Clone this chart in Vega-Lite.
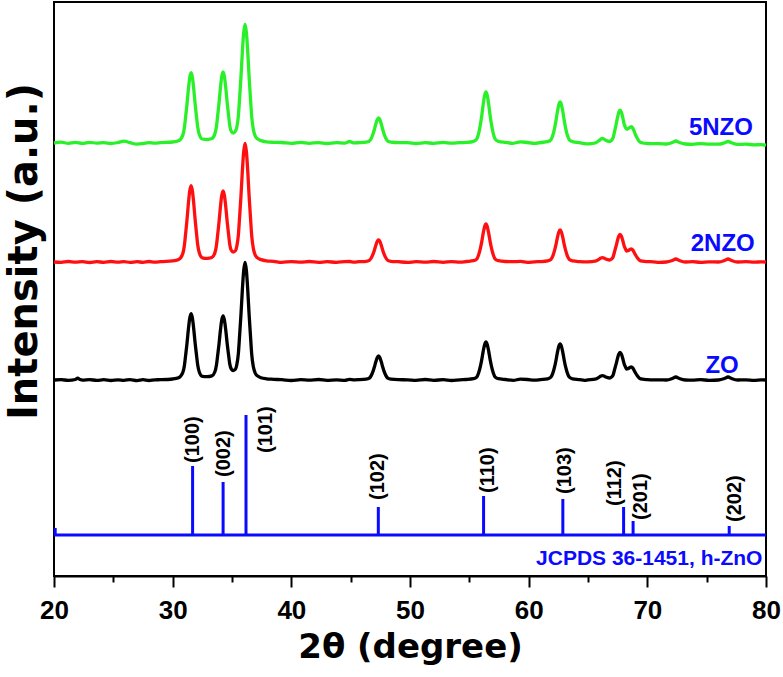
{
"$schema": "https://vega.github.io/schema/vega-lite/v6.json",
"autosize": "none",
"padding": {"left": 54, "top": 2, "right": 17, "bottom": 101},
"width": 712,
"height": 574,
"background": "white",
"config": {"view": {"stroke": "black", "strokeWidth": 2}, "font": "Liberation Sans"},
"datasets": {
"xrd": [
{"s":"5NZO","t":20,"i":433},{"s":"5NZO","t":20.6,"i":433.8},{"s":"5NZO","t":21.2,"i":432.7},{"s":"5NZO","t":21.8,"i":433.6},{"s":"5NZO","t":22.4,"i":432.6},{"s":"5NZO","t":23.0,"i":433.7},{"s":"5NZO","t":23.6,"i":432.8},{"s":"5NZO","t":24.2,"i":433.4},{"s":"5NZO","t":24.8,"i":432.5},{"s":"5NZO","t":25.4,"i":433.5},{"s":"5NZO","t":25.9,"i":434.8},{"s":"5NZO","t":26.4,"i":433.3},{"s":"5NZO","t":27.0,"i":431.8},{"s":"5NZO","t":27.5,"i":432.4},{"s":"5NZO","t":28.0,"i":433.4},{"s":"5NZO","t":28.5,"i":432.8},
{"s":"5NZO","t":29.0,"i":433.4},{"s":"5NZO","t":30.0,"i":434},{"s":"5NZO","t":30.5,"i":435.3},{"s":"5NZO","t":30.85,"i":440.7},{"s":"5NZO","t":30.99,"i":448.4},{"s":"5NZO","t":31.09,"i":458.9},{"s":"5NZO","t":31.205,"i":471.5},{"s":"5NZO","t":31.32,"i":486.2},{"s":"5NZO","t":31.435,"i":498.1},{"s":"5NZO","t":31.55,"i":503.3},{"s":"5NZO","t":31.665,"i":498.5},{"s":"5NZO","t":31.78,"i":486.6},{"s":"5NZO","t":31.895,"i":471.9},{"s":"5NZO","t":32.01,"i":459.3},{"s":"5NZO","t":32.11,"i":448.9},{"s":"5NZO","t":32.25,"i":441.3},{"s":"5NZO","t":32.5,"i":437},{"s":"5NZO","t":32.9,"i":436.5},{"s":"5NZO","t":33.3,"i":437.5},{"s":"5NZO","t":33.55,"i":441.9},{"s":"5NZO","t":33.69,"i":449.6},{"s":"5NZO","t":33.79,"i":460},{"s":"5NZO","t":33.905,"i":472.7},{"s":"5NZO","t":34.02,"i":487.5},{"s":"5NZO","t":34.135,"i":499.5},{"s":"5NZO","t":34.25,"i":504.2},{"s":"5NZO","t":34.365,"i":499.3},{"s":"5NZO","t":34.48,"i":487.6},{"s":"5NZO","t":34.595,"i":473.2},{"s":"5NZO","t":34.71,"i":460.8},{"s":"5NZO","t":34.81,"i":450.6},{"s":"5NZO","t":34.95,"i":444.5},{"s":"5NZO","t":35.1,"i":443},{"s":"5NZO","t":35.3,"i":445},{"s":"5NZO","t":35.4,"i":448.5},{"s":"5NZO","t":35.54,"i":460.3},{"s":"5NZO","t":35.64,"i":477.8},{"s":"5NZO","t":35.755,"i":498.9},{"s":"5NZO","t":35.87,"i":523.5},{"s":"5NZO","t":35.985,"i":543.4},{"s":"5NZO","t":36.1,"i":551.7},{"s":"5NZO","t":36.215,"i":543.3},{"s":"5NZO","t":36.33,"i":523.3},{"s":"5NZO","t":36.445,"i":498.4},{"s":"5NZO","t":36.56,"i":477.2},{"s":"5NZO","t":36.66,"i":459.4},{"s":"5NZO","t":36.8,"i":446.4},{"s":"5NZO","t":36.95,"i":440.1},{"s":"5NZO","t":37.15,"i":437.1},{"s":"5NZO","t":37.45,"i":435.4},{"s":"5NZO","t":37.9,"i":434.2},{"s":"5NZO","t":38.5,"i":433.7},
{"s":"5NZO","t":39.2,"i":433.5},{"s":"5NZO","t":40.0,"i":432.6},{"s":"5NZO","t":40.8,"i":433.6},{"s":"5NZO","t":41.5,"i":432.7},{"s":"5NZO","t":42.3,"i":433.4},{"s":"5NZO","t":43.0,"i":432.5},{"s":"5NZO","t":43.8,"i":433.3},{"s":"5NZO","t":44.5,"i":432.8},{"s":"5NZO","t":44.9,"i":434.5},{"s":"5NZO","t":45.3,"i":433.1},
{"s":"5NZO","t":45.7,"i":433.3},{"s":"5NZO","t":46.3,"i":433.8},{"s":"5NZO","t":46.57,"i":434.9},{"s":"5NZO","t":46.73,"i":437.6},{"s":"5NZO","t":46.89,"i":442.3},{"s":"5NZO","t":47.005,"i":446.8},{"s":"5NZO","t":47.12,"i":452},{"s":"5NZO","t":47.235,"i":456.3},{"s":"5NZO","t":47.35,"i":458},{"s":"5NZO","t":47.465,"i":456.3},{"s":"5NZO","t":47.58,"i":452},{"s":"5NZO","t":47.695,"i":446.8},{"s":"5NZO","t":47.81,"i":442.3},{"s":"5NZO","t":47.97,"i":437.6},{"s":"5NZO","t":48.13,"i":434.9},{"s":"5NZO","t":48.4,"i":433.8},{"s":"5NZO","t":49.0,"i":433.3},
{"s":"5NZO","t":49.8,"i":433.4},{"s":"5NZO","t":50.5,"i":432.5},{"s":"5NZO","t":51.3,"i":433.3},{"s":"5NZO","t":52.0,"i":432.7},{"s":"5NZO","t":52.8,"i":433.6},{"s":"5NZO","t":53.5,"i":432.8},{"s":"5NZO","t":54.2,"i":433.3},
{"s":"5NZO","t":54.75,"i":433.6},{"s":"5NZO","t":55.35,"i":434.7},{"s":"5NZO","t":55.62,"i":436.9},{"s":"5NZO","t":55.78,"i":442.3},{"s":"5NZO","t":55.94,"i":451.9},{"s":"5NZO","t":56.055,"i":461},{"s":"5NZO","t":56.17,"i":471.8},{"s":"5NZO","t":56.285,"i":480.4},{"s":"5NZO","t":56.4,"i":484},{"s":"5NZO","t":56.515,"i":480.4},{"s":"5NZO","t":56.63,"i":471.8},{"s":"5NZO","t":56.745,"i":461},{"s":"5NZO","t":56.86,"i":451.9},{"s":"5NZO","t":57.02,"i":442.3},{"s":"5NZO","t":57.18,"i":436.9},{"s":"5NZO","t":57.45,"i":434.7},{"s":"5NZO","t":58.05,"i":433.6},
{"s":"5NZO","t":58.7,"i":432.7},{"s":"5NZO","t":59.3,"i":434.2},{"s":"5NZO","t":59.9,"i":433.5},{"s":"5NZO","t":60.5,"i":432.6},
{"s":"5NZO","t":61.0,"i":433.5},{"s":"5NZO","t":61.6,"i":434.4},{"s":"5NZO","t":61.87,"i":436.2},{"s":"5NZO","t":62.03,"i":440.5},{"s":"5NZO","t":62.19,"i":448.2},{"s":"5NZO","t":62.305,"i":455.6},{"s":"5NZO","t":62.42,"i":464.2},{"s":"5NZO","t":62.535,"i":471.1},{"s":"5NZO","t":62.65,"i":474},{"s":"5NZO","t":62.765,"i":471.1},{"s":"5NZO","t":62.88,"i":464.2},{"s":"5NZO","t":62.995,"i":455.6},{"s":"5NZO","t":63.11,"i":448.2},{"s":"5NZO","t":63.27,"i":440.5},{"s":"5NZO","t":63.43,"i":436.2},{"s":"5NZO","t":63.7,"i":434.4},{"s":"5NZO","t":64.3,"i":433.3},
{"s":"5NZO","t":64.7,"i":432.4},{"s":"5NZO","t":65.0,"i":432.2},{"s":"5NZO","t":65.6,"i":433},{"s":"5NZO","t":65.9,"i":435.1},{"s":"5NZO","t":66.05,"i":436.6},{"s":"5NZO","t":66.2,"i":437.6},{"s":"5NZO","t":66.35,"i":436.9},{"s":"5NZO","t":66.5,"i":435.7},{"s":"5NZO","t":66.8,"i":434.5},{"s":"5NZO","t":67.0,"i":435.8},{"s":"5NZO","t":67.12,"i":438.4},{"s":"5NZO","t":67.24,"i":444.7},{"s":"5NZO","t":67.355,"i":450.7},{"s":"5NZO","t":67.47,"i":457.6},{"s":"5NZO","t":67.585,"i":463.3},{"s":"5NZO","t":67.7,"i":465.8},{"s":"5NZO","t":67.815,"i":463.6},{"s":"5NZO","t":67.93,"i":458.4},{"s":"5NZO","t":68.045,"i":452},{"s":"5NZO","t":68.16,"i":448.5},{"s":"5NZO","t":68.26,"i":446.8},{"s":"5NZO","t":68.36,"i":447.2},{"s":"5NZO","t":68.535,"i":448.8},{"s":"5NZO","t":68.65,"i":449.4},{"s":"5NZO","t":68.765,"i":448},{"s":"5NZO","t":68.88,"i":445.1},{"s":"5NZO","t":68.995,"i":441.5},{"s":"5NZO","t":69.17,"i":437.3},{"s":"5NZO","t":69.35,"i":434.2},{"s":"5NZO","t":69.6,"i":433},{"s":"5NZO","t":70.0,"i":432.5},{"s":"5NZO","t":70.5,"i":432.3},
{"s":"5NZO","t":71.0,"i":432.3},{"s":"5NZO","t":71.6,"i":432},{"s":"5NZO","t":72.1,"i":433.5},{"s":"5NZO","t":72.4,"i":435},{"s":"5NZO","t":72.7,"i":433.5},{"s":"5NZO","t":73.2,"i":432},{"s":"5NZO","t":73.8,"i":431.7},{"s":"5NZO","t":74.5,"i":432.4},{"s":"5NZO","t":75.2,"i":431.8},{"s":"5NZO","t":76.0,"i":431.8},{"s":"5NZO","t":76.5,"i":433.2},{"s":"5NZO","t":76.8,"i":434.5},{"s":"5NZO","t":77.1,"i":433.2},{"s":"5NZO","t":77.6,"i":431.6},{"s":"5NZO","t":78.3,"i":431.8},{"s":"5NZO","t":79.0,"i":431.2},{"s":"5NZO","t":79.6,"i":431.3},{"s":"5NZO","t":80.0,"i":430.8},

{"s":"2NZO","t":20,"i":314},{"s":"2NZO","t":20.6,"i":313.6},{"s":"2NZO","t":21.2,"i":314.5},{"s":"2NZO","t":21.8,"i":313.8},{"s":"2NZO","t":22.4,"i":314.4},{"s":"2NZO","t":23.0,"i":313.5},{"s":"2NZO","t":23.6,"i":314.3},{"s":"2NZO","t":24.2,"i":313.7},{"s":"2NZO","t":24.8,"i":314.5},{"s":"2NZO","t":25.4,"i":313.8},{"s":"2NZO","t":25.9,"i":314.4},{"s":"2NZO","t":26.4,"i":313.6},{"s":"2NZO","t":27.0,"i":314.3},{"s":"2NZO","t":27.5,"i":313.7},{"s":"2NZO","t":28.0,"i":314.5},{"s":"2NZO","t":28.5,"i":313.8},
{"s":"2NZO","t":29.0,"i":314.4},{"s":"2NZO","t":30.0,"i":315.1},{"s":"2NZO","t":30.5,"i":316.5},{"s":"2NZO","t":30.85,"i":322.4},{"s":"2NZO","t":30.99,"i":330.7},{"s":"2NZO","t":31.09,"i":342.1},{"s":"2NZO","t":31.205,"i":355.8},{"s":"2NZO","t":31.32,"i":371.8},{"s":"2NZO","t":31.435,"i":384.7},{"s":"2NZO","t":31.55,"i":390.3},{"s":"2NZO","t":31.665,"i":385},{"s":"2NZO","t":31.78,"i":372.1},{"s":"2NZO","t":31.895,"i":356.2},{"s":"2NZO","t":32.01,"i":342.5},{"s":"2NZO","t":32.11,"i":331.2},{"s":"2NZO","t":32.25,"i":323},{"s":"2NZO","t":32.5,"i":318.2},{"s":"2NZO","t":32.9,"i":317.6},{"s":"2NZO","t":33.3,"i":318.5},{"s":"2NZO","t":33.55,"i":322.9},{"s":"2NZO","t":33.69,"i":330.6},{"s":"2NZO","t":33.79,"i":341},{"s":"2NZO","t":33.905,"i":353.7},{"s":"2NZO","t":34.02,"i":368.5},{"s":"2NZO","t":34.135,"i":380.5},{"s":"2NZO","t":34.25,"i":385.2},{"s":"2NZO","t":34.365,"i":380.3},{"s":"2NZO","t":34.48,"i":368.6},{"s":"2NZO","t":34.595,"i":354.2},{"s":"2NZO","t":34.71,"i":341.8},{"s":"2NZO","t":34.81,"i":331.6},{"s":"2NZO","t":34.95,"i":325.5},{"s":"2NZO","t":35.1,"i":324},{"s":"2NZO","t":35.3,"i":325.5},{"s":"2NZO","t":35.4,"i":329.5},{"s":"2NZO","t":35.54,"i":341.3},{"s":"2NZO","t":35.64,"i":358.8},{"s":"2NZO","t":35.755,"i":379.9},{"s":"2NZO","t":35.87,"i":404.5},{"s":"2NZO","t":35.985,"i":424.4},{"s":"2NZO","t":36.1,"i":432.7},{"s":"2NZO","t":36.215,"i":424.3},{"s":"2NZO","t":36.33,"i":404.3},{"s":"2NZO","t":36.445,"i":379.4},{"s":"2NZO","t":36.56,"i":358.2},{"s":"2NZO","t":36.66,"i":340.4},{"s":"2NZO","t":36.8,"i":327.4},{"s":"2NZO","t":36.95,"i":321.1},{"s":"2NZO","t":37.15,"i":318.1},{"s":"2NZO","t":37.45,"i":316.4},{"s":"2NZO","t":37.9,"i":315.2},{"s":"2NZO","t":38.5,"i":314.7},
{"s":"2NZO","t":39.2,"i":313.7},{"s":"2NZO","t":40.0,"i":314.4},{"s":"2NZO","t":40.8,"i":313.8},{"s":"2NZO","t":41.5,"i":314.5},{"s":"2NZO","t":42.3,"i":313.6},{"s":"2NZO","t":43.0,"i":314.3},{"s":"2NZO","t":43.8,"i":313.7},{"s":"2NZO","t":44.5,"i":314.4},{"s":"2NZO","t":44.9,"i":314.5},{"s":"2NZO","t":45.3,"i":313.8},
{"s":"2NZO","t":45.7,"i":314.3},{"s":"2NZO","t":46.3,"i":314.7},{"s":"2NZO","t":46.57,"i":315.7},{"s":"2NZO","t":46.73,"i":318},{"s":"2NZO","t":46.89,"i":322.1},{"s":"2NZO","t":47.005,"i":326.1},{"s":"2NZO","t":47.12,"i":330.7},{"s":"2NZO","t":47.235,"i":334.5},{"s":"2NZO","t":47.35,"i":336},{"s":"2NZO","t":47.465,"i":334.5},{"s":"2NZO","t":47.58,"i":330.7},{"s":"2NZO","t":47.695,"i":326.1},{"s":"2NZO","t":47.81,"i":322.1},{"s":"2NZO","t":47.97,"i":318},{"s":"2NZO","t":48.13,"i":315.7},{"s":"2NZO","t":48.4,"i":314.7},{"s":"2NZO","t":49.0,"i":314.3},
{"s":"2NZO","t":49.8,"i":313.6},{"s":"2NZO","t":50.5,"i":314.3},{"s":"2NZO","t":51.3,"i":313.8},{"s":"2NZO","t":52.0,"i":314.5},{"s":"2NZO","t":52.8,"i":313.7},{"s":"2NZO","t":53.5,"i":314.4},{"s":"2NZO","t":54.2,"i":313.8},
{"s":"2NZO","t":54.75,"i":314.5},{"s":"2NZO","t":55.35,"i":315.3},{"s":"2NZO","t":55.62,"i":316.9},{"s":"2NZO","t":55.78,"i":321},{"s":"2NZO","t":55.94,"i":328.1},{"s":"2NZO","t":56.055,"i":334.9},{"s":"2NZO","t":56.17,"i":342.9},{"s":"2NZO","t":56.285,"i":349.3},{"s":"2NZO","t":56.4,"i":352},{"s":"2NZO","t":56.515,"i":349.3},{"s":"2NZO","t":56.63,"i":342.9},{"s":"2NZO","t":56.745,"i":334.9},{"s":"2NZO","t":56.86,"i":328.1},{"s":"2NZO","t":57.02,"i":321},{"s":"2NZO","t":57.18,"i":316.9},{"s":"2NZO","t":57.45,"i":315.3},{"s":"2NZO","t":58.05,"i":314.5},
{"s":"2NZO","t":58.7,"i":314.3},{"s":"2NZO","t":59.3,"i":314.6},{"s":"2NZO","t":59.9,"i":313.7},{"s":"2NZO","t":60.5,"i":314.2},
{"s":"2NZO","t":61.0,"i":314.4},{"s":"2NZO","t":61.6,"i":315.1},{"s":"2NZO","t":61.87,"i":316.5},{"s":"2NZO","t":62.03,"i":319.9},{"s":"2NZO","t":62.19,"i":325.8},{"s":"2NZO","t":62.305,"i":331.6},{"s":"2NZO","t":62.42,"i":338.3},{"s":"2NZO","t":62.535,"i":343.8},{"s":"2NZO","t":62.65,"i":346},{"s":"2NZO","t":62.765,"i":343.8},{"s":"2NZO","t":62.88,"i":338.3},{"s":"2NZO","t":62.995,"i":331.6},{"s":"2NZO","t":63.11,"i":325.8},{"s":"2NZO","t":63.27,"i":319.9},{"s":"2NZO","t":63.43,"i":316.5},{"s":"2NZO","t":63.7,"i":315.1},{"s":"2NZO","t":64.3,"i":314.4},
{"s":"2NZO","t":64.7,"i":314.2},{"s":"2NZO","t":65.0,"i":314.1},{"s":"2NZO","t":65.6,"i":314.8},{"s":"2NZO","t":65.9,"i":316.5},{"s":"2NZO","t":66.05,"i":317.7},{"s":"2NZO","t":66.2,"i":318.4},{"s":"2NZO","t":66.35,"i":317.9},{"s":"2NZO","t":66.5,"i":316.9},{"s":"2NZO","t":66.8,"i":316},{"s":"2NZO","t":67.0,"i":317.1},{"s":"2NZO","t":67.12,"i":319.2},{"s":"2NZO","t":67.24,"i":324.4},{"s":"2NZO","t":67.355,"i":329.3},{"s":"2NZO","t":67.47,"i":334.9},{"s":"2NZO","t":67.585,"i":339.6},{"s":"2NZO","t":67.7,"i":341.6},{"s":"2NZO","t":67.815,"i":339.8},{"s":"2NZO","t":67.93,"i":335.5},{"s":"2NZO","t":68.045,"i":330.2},{"s":"2NZO","t":68.16,"i":327},{"s":"2NZO","t":68.26,"i":324.8},{"s":"2NZO","t":68.36,"i":325.2},{"s":"2NZO","t":68.535,"i":326.6},{"s":"2NZO","t":68.65,"i":327.1},{"s":"2NZO","t":68.765,"i":326.1},{"s":"2NZO","t":68.88,"i":323.8},{"s":"2NZO","t":68.995,"i":321.2},{"s":"2NZO","t":69.17,"i":318},{"s":"2NZO","t":69.35,"i":315.7},{"s":"2NZO","t":69.6,"i":314.8},{"s":"2NZO","t":70.0,"i":314.4},{"s":"2NZO","t":70.5,"i":314.2},
{"s":"2NZO","t":71.0,"i":313.7},{"s":"2NZO","t":71.6,"i":314},{"s":"2NZO","t":72.1,"i":315.5},{"s":"2NZO","t":72.4,"i":317},{"s":"2NZO","t":72.7,"i":315.5},{"s":"2NZO","t":73.2,"i":314},{"s":"2NZO","t":73.8,"i":314.3},{"s":"2NZO","t":74.5,"i":313.7},{"s":"2NZO","t":75.2,"i":314.2},{"s":"2NZO","t":76.0,"i":314},{"s":"2NZO","t":76.5,"i":315.5},{"s":"2NZO","t":76.8,"i":317},{"s":"2NZO","t":77.1,"i":315.5},{"s":"2NZO","t":77.6,"i":314},{"s":"2NZO","t":78.3,"i":314.3},{"s":"2NZO","t":79.0,"i":313.8},{"s":"2NZO","t":79.6,"i":314.2},{"s":"2NZO","t":80.0,"i":314},

{"s":"ZO","t":20,"i":196},{"s":"ZO","t":20.6,"i":196.3},{"s":"ZO","t":21.2,"i":195.7},{"s":"ZO","t":21.8,"i":196.5},{"s":"ZO","t":22.0,"i":197.8},{"s":"ZO","t":22.2,"i":196.4},{"s":"ZO","t":22.4,"i":195.8},{"s":"ZO","t":23.0,"i":196.4},{"s":"ZO","t":23.6,"i":195.6},{"s":"ZO","t":24.2,"i":196.3},{"s":"ZO","t":24.8,"i":195.5},{"s":"ZO","t":25.4,"i":196.2},{"s":"ZO","t":25.9,"i":195.7},{"s":"ZO","t":26.4,"i":196.4},{"s":"ZO","t":27.0,"i":195.4},{"s":"ZO","t":27.5,"i":196.3},{"s":"ZO","t":28.0,"i":195.5},{"s":"ZO","t":28.5,"i":196.2},
{"s":"ZO","t":29.0,"i":196.3},{"s":"ZO","t":30.0,"i":197},{"s":"ZO","t":30.5,"i":198.2},{"s":"ZO","t":30.85,"i":203.3},{"s":"ZO","t":30.99,"i":210.5},{"s":"ZO","t":31.09,"i":220.4},{"s":"ZO","t":31.205,"i":232.3},{"s":"ZO","t":31.32,"i":246.2},{"s":"ZO","t":31.435,"i":257.4},{"s":"ZO","t":31.55,"i":262.3},{"s":"ZO","t":31.665,"i":257.7},{"s":"ZO","t":31.78,"i":246.5},{"s":"ZO","t":31.895,"i":232.7},{"s":"ZO","t":32.01,"i":220.8},{"s":"ZO","t":32.11,"i":211},{"s":"ZO","t":32.25,"i":203.8},{"s":"ZO","t":32.5,"i":199.7},{"s":"ZO","t":32.9,"i":199.3},{"s":"ZO","t":33.3,"i":200.1},{"s":"ZO","t":33.55,"i":204},{"s":"ZO","t":33.69,"i":211.1},{"s":"ZO","t":33.79,"i":220.4},{"s":"ZO","t":33.905,"i":231.9},{"s":"ZO","t":34.02,"i":245.2},{"s":"ZO","t":34.135,"i":256},{"s":"ZO","t":34.25,"i":260.2},{"s":"ZO","t":34.365,"i":255.8},{"s":"ZO","t":34.48,"i":245.3},{"s":"ZO","t":34.595,"i":232.3},{"s":"ZO","t":34.71,"i":221.2},{"s":"ZO","t":34.81,"i":212.1},{"s":"ZO","t":34.95,"i":206.8},{"s":"ZO","t":35.1,"i":205.5},{"s":"ZO","t":35.3,"i":207},{"s":"ZO","t":35.4,"i":211},{"s":"ZO","t":35.54,"i":222.9},{"s":"ZO","t":35.64,"i":240.3},{"s":"ZO","t":35.755,"i":261.3},{"s":"ZO","t":35.87,"i":285.7},{"s":"ZO","t":35.985,"i":305.4},{"s":"ZO","t":36.1,"i":313.6},{"s":"ZO","t":36.215,"i":305.4},{"s":"ZO","t":36.33,"i":285.4},{"s":"ZO","t":36.445,"i":260.8},{"s":"ZO","t":36.56,"i":239.7},{"s":"ZO","t":36.66,"i":221.9},{"s":"ZO","t":36.8,"i":209.2},{"s":"ZO","t":36.95,"i":203},{"s":"ZO","t":37.15,"i":200.1},{"s":"ZO","t":37.45,"i":198.3},{"s":"ZO","t":37.9,"i":197.2},{"s":"ZO","t":38.5,"i":196.7},
{"s":"ZO","t":39.2,"i":196.3},{"s":"ZO","t":40.0,"i":195.5},{"s":"ZO","t":40.8,"i":196.4},{"s":"ZO","t":41.5,"i":195.8},{"s":"ZO","t":42.3,"i":196.5},{"s":"ZO","t":43.0,"i":195.6},{"s":"ZO","t":43.8,"i":196.2},{"s":"ZO","t":44.5,"i":195.7},{"s":"ZO","t":44.9,"i":196.6},{"s":"ZO","t":45.3,"i":196.2},
{"s":"ZO","t":45.7,"i":196.3},{"s":"ZO","t":46.3,"i":196.8},{"s":"ZO","t":46.57,"i":197.8},{"s":"ZO","t":46.73,"i":200.4},{"s":"ZO","t":46.89,"i":204.9},{"s":"ZO","t":47.005,"i":209.2},{"s":"ZO","t":47.12,"i":214.2},{"s":"ZO","t":47.235,"i":218.3},{"s":"ZO","t":47.35,"i":220},{"s":"ZO","t":47.465,"i":218.3},{"s":"ZO","t":47.58,"i":214.2},{"s":"ZO","t":47.695,"i":209.2},{"s":"ZO","t":47.81,"i":204.9},{"s":"ZO","t":47.97,"i":200.4},{"s":"ZO","t":48.13,"i":197.8},{"s":"ZO","t":48.4,"i":196.8},{"s":"ZO","t":49.0,"i":196.3},
{"s":"ZO","t":49.8,"i":196.2},{"s":"ZO","t":50.5,"i":195.6},{"s":"ZO","t":51.3,"i":196.5},{"s":"ZO","t":52.0,"i":195.7},{"s":"ZO","t":52.8,"i":196.3},{"s":"ZO","t":53.5,"i":195.5},{"s":"ZO","t":54.2,"i":196.2},
{"s":"ZO","t":54.75,"i":196.5},{"s":"ZO","t":55.35,"i":197.3},{"s":"ZO","t":55.62,"i":198.9},{"s":"ZO","t":55.78,"i":203},{"s":"ZO","t":55.94,"i":210.1},{"s":"ZO","t":56.055,"i":216.9},{"s":"ZO","t":56.17,"i":224.9},{"s":"ZO","t":56.285,"i":231.3},{"s":"ZO","t":56.4,"i":234},{"s":"ZO","t":56.515,"i":231.3},{"s":"ZO","t":56.63,"i":224.9},{"s":"ZO","t":56.745,"i":216.9},{"s":"ZO","t":56.86,"i":210.1},{"s":"ZO","t":57.02,"i":203},{"s":"ZO","t":57.18,"i":198.9},{"s":"ZO","t":57.45,"i":197.3},{"s":"ZO","t":58.05,"i":196.5},
{"s":"ZO","t":58.7,"i":195.7},{"s":"ZO","t":59.3,"i":196.8},{"s":"ZO","t":59.9,"i":196.5},{"s":"ZO","t":60.5,"i":195.8},
{"s":"ZO","t":61.0,"i":196.4},{"s":"ZO","t":61.6,"i":197.2},{"s":"ZO","t":61.87,"i":198.8},{"s":"ZO","t":62.03,"i":202.6},{"s":"ZO","t":62.19,"i":209.3},{"s":"ZO","t":62.305,"i":215.8},{"s":"ZO","t":62.42,"i":223.4},{"s":"ZO","t":62.535,"i":229.5},{"s":"ZO","t":62.65,"i":232},{"s":"ZO","t":62.765,"i":229.5},{"s":"ZO","t":62.88,"i":223.4},{"s":"ZO","t":62.995,"i":215.8},{"s":"ZO","t":63.11,"i":209.3},{"s":"ZO","t":63.27,"i":202.6},{"s":"ZO","t":63.43,"i":198.8},{"s":"ZO","t":63.7,"i":197.2},{"s":"ZO","t":64.3,"i":196.4},
{"s":"ZO","t":64.7,"i":195.7},{"s":"ZO","t":65.0,"i":196.1},{"s":"ZO","t":65.6,"i":196.8},{"s":"ZO","t":65.9,"i":198.5},{"s":"ZO","t":66.05,"i":199.7},{"s":"ZO","t":66.2,"i":200.4},{"s":"ZO","t":66.35,"i":199.9},{"s":"ZO","t":66.5,"i":198.9},{"s":"ZO","t":66.8,"i":198},{"s":"ZO","t":67.0,"i":199.1},{"s":"ZO","t":67.12,"i":201.2},{"s":"ZO","t":67.24,"i":206.4},{"s":"ZO","t":67.355,"i":211.3},{"s":"ZO","t":67.47,"i":216.9},{"s":"ZO","t":67.585,"i":221.6},{"s":"ZO","t":67.7,"i":223.6},{"s":"ZO","t":67.815,"i":221.8},{"s":"ZO","t":67.93,"i":217.5},{"s":"ZO","t":68.045,"i":212.2},{"s":"ZO","t":68.16,"i":209},{"s":"ZO","t":68.26,"i":206.8},{"s":"ZO","t":68.36,"i":207.2},{"s":"ZO","t":68.535,"i":208.6},{"s":"ZO","t":68.65,"i":209.1},{"s":"ZO","t":68.765,"i":208.1},{"s":"ZO","t":68.88,"i":205.8},{"s":"ZO","t":68.995,"i":203.2},{"s":"ZO","t":69.17,"i":200},{"s":"ZO","t":69.35,"i":197.7},{"s":"ZO","t":69.6,"i":196.8},{"s":"ZO","t":70.0,"i":196.4},{"s":"ZO","t":70.5,"i":196.2},
{"s":"ZO","t":71.0,"i":196.2},{"s":"ZO","t":71.6,"i":196},{"s":"ZO","t":72.1,"i":197.5},{"s":"ZO","t":72.4,"i":199},{"s":"ZO","t":72.7,"i":197.5},{"s":"ZO","t":73.2,"i":196},{"s":"ZO","t":73.8,"i":195.8},{"s":"ZO","t":74.5,"i":196.3},{"s":"ZO","t":75.2,"i":195.7},{"s":"ZO","t":76.0,"i":196},{"s":"ZO","t":76.5,"i":197.5},{"s":"ZO","t":76.8,"i":199},{"s":"ZO","t":77.1,"i":197.5},{"s":"ZO","t":77.6,"i":196},{"s":"ZO","t":78.3,"i":196.2},{"s":"ZO","t":79.0,"i":195.7},{"s":"ZO","t":79.6,"i":196.2},{"s":"ZO","t":80.0,"i":196}
],
"jcpds": [
{"hkl":"","t":20.1,"i":48,"lt":20.1,"li":48},
{"hkl":"(100)","t":31.68,"i":110,"lt":31.7,"li":113},
{"hkl":"(002)","t":34.25,"i":94,"lt":34.3,"li":99},
{"hkl":"(101)","t":36.18,"i":161,"lt":37.9,"li":123},
{"hkl":"(102)","t":47.33,"i":69,"lt":47.3,"li":76},
{"hkl":"(110)","t":56.2,"i":80,"lt":56.6,"li":83},
{"hkl":"(103)","t":62.88,"i":77,"lt":63.1,"li":82},
{"hkl":"(112)","t":68.0,"i":69,"lt":67.3,"li":70},
{"hkl":"(201)","t":68.8,"i":55,"lt":69.5,"li":56},
{"hkl":"(202)","t":76.9,"i":50,"lt":77.4,"li":54}
],
"names": [
{"label":"5NZO","t":78.9,"i":441,"kind":"sample"},
{"label":"2NZO","t":79.05,"i":325,"kind":"sample"},
{"label":"ZO","t":77.7,"i":203,"kind":"sample"},
{"label":"JCPDS 36-1451, h-ZnO","t":79.7,"i":11,"kind":"ref"}
],
"base": [{"a":20,"b":80,"y":41}]
},
"layer": [
{
"data": {"name": "xrd"},
"mark": {"type": "line", "interpolate": "monotone", "strokeWidth": 3.3, "strokeJoin": "round"},
"encoding": {
"x": {"field": "t", "type": "quantitative", "scale": {"domain": [20, 80], "nice": false, "zero": false},
"axis": {"title": "2θ (degree)", "titleFont": "DejaVu Sans", "titleFontSize": 34, "titleFontWeight": "bold", "titleColor": "black", "titleBaseline": "alphabetic", "titleAlign": "center", "titleX": 356, "titleY": 81,
"values": [20,25,30,35,40,45,50,55,60,65,70,75,80], "labelExpr": "datum.value % 10 === 0 ? datum.label : ''",
"labelFont": "Liberation Sans", "labelFontSize": 26, "labelFontWeight": "bold", "labelColor": "black", "labelPadding": 10, "labelFlush": false, "labelOverlap": false,
"tickSize": {"condition": {"test": "datum.value % 10 === 0", "value": 11}, "value": 6}, "tickWidth": 2, "tickColor": "black", "domainColor": "black", "domainWidth": 2, "grid": false}},
"y": {"field": "i", "type": "quantitative", "scale": {"domain": [0, 574], "nice": false, "zero": false},
"axis": {"title": "Intensity (a.u.)", "titleFont": "DejaVu Sans", "titleFontSize": 40, "titleFontWeight": "bold", "titleColor": "black", "titleAngle": 270, "titleBaseline": "alphabetic", "titleAlign": "center", "titleX": -18, "titleY": 249, "labels": false, "ticks": false, "domain": false, "grid": false}},
"color": {"field": "s", "type": "nominal", "scale": {"domain": ["5NZO", "2NZO", "ZO"], "range": ["#2af02a", "#ff1010", "#000000"]}, "legend": null}
}
},
{
"data": {"name": "base"},
"mark": {"type": "rule", "color": "#0a0aff", "strokeWidth": 3},
"encoding": {"x": {"field": "a", "type": "quantitative"}, "x2": {"field": "b"}, "y": {"field": "y", "type": "quantitative"}}
},
{
"data": {"name": "jcpds"},
"mark": {"type": "rule", "color": "#0a0aff", "strokeWidth": 3},
"encoding": {"x": {"field": "t", "type": "quantitative"}, "y": {"field": "i", "type": "quantitative"}, "y2": {"datum": 41}}
},
{
"data": {"name": "jcpds"},
"transform": [{"filter": "datum.hkl != ''"}],
"mark": {"type": "text", "angle": 270, "align": "left", "baseline": "middle", "font": "Liberation Sans", "fontWeight": "bold", "fontSize": 20, "color": "black"},
"encoding": {"x": {"field": "lt", "type": "quantitative"}, "y": {"field": "li", "type": "quantitative"}, "text": {"field": "hkl"}}
},
{
"data": {"name": "names"},
"transform": [{"filter": "datum.kind == 'sample'"}],
"mark": {"type": "text", "align": "right", "baseline": "alphabetic", "font": "Liberation Sans", "fontWeight": "bold", "fontSize": 24, "color": "#0a0aff"},
"encoding": {"x": {"field": "t", "type": "quantitative"}, "y": {"field": "i", "type": "quantitative"}, "text": {"field": "label"}}
},
{
"data": {"name": "names"},
"transform": [{"filter": "datum.kind == 'ref'"}],
"mark": {"type": "text", "align": "right", "baseline": "alphabetic", "font": "Liberation Sans", "fontWeight": "bold", "fontSize": 21, "color": "#0a0aff"},
"encoding": {"x": {"field": "t", "type": "quantitative"}, "y": {"field": "i", "type": "quantitative"}, "text": {"field": "label"}}
}
]
}
